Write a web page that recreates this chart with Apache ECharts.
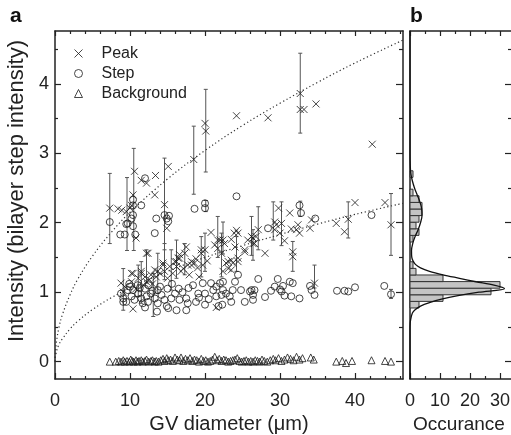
<!DOCTYPE html>
<html>
<head>
<meta charset="utf-8">
<script src="https://cdn.jsdelivr.net/npm/echarts@6/dist/echarts.min.js"></script>
<style>
  html, body { margin: 0; padding: 0; background: #fff; }
  #chart { width: 511px; height: 435px; }
</style>
</head>
<body>
<div id="chart"></div>
<script>
// ---- axis ticks / labels ----
const xMajor = [0, 10, 20, 30, 40]
const xMinor = [2, 4, 6, 8, 12, 14, 16, 18, 22, 24, 26, 28, 32, 34, 36, 38, 42, 44, 46]
const yMajor = [0, 1, 2, 3, 4]
const yMinor = [0.5, 1.5, 2.5, 3.5, 4.5]
const histMajor = [0, 10, 20, 30]
const histMinor = [5, 15, 25]

// ---- panel a: intensity vs GV diameter ----
const peakPoints = [
  [7.3, 2.21], [8.4, 2.20], [8.9, 2.18], [9.5, 2.16], [10.0, 2.21], [10.2, 2.25], [10.4, 2.40], [10.6, 2.74],
  [11.5, 2.61], [12.2, 2.57], [13.4, 2.68], [13.3, 2.40], [15.1, 2.81], [14.6, 2.26], [14.9, 1.92], [10.8, 1.78],
  [18.5, 2.91], [20.0, 3.43], [20.1, 3.32], [24.2, 3.54], [28.4, 3.51], [32.7, 3.86], [32.7, 3.63], [33.2, 3.63],
  [34.8, 3.71], [42.3, 3.13],
  [20.8, 1.86], [21.7, 1.75], [22.0, 1.75], [22.4, 1.75], [22.6, 1.70], [23.5, 1.76], [23.9, 1.85], [24.2, 1.89],
  [24.4, 1.85], [25.3, 1.61], [25.7, 1.75], [26.2, 1.80], [26.4, 1.78], [26.6, 1.70], [26.8, 1.80], [27.1, 1.90],
  [28.0, 1.56], [29.3, 2.01], [29.5, 1.97], [29.3, 1.90], [29.8, 2.21], [30.0, 1.85], [30.2, 1.99], [30.6, 1.74],
  [31.3, 2.14], [31.5, 1.91], [31.7, 1.58], [31.7, 1.51], [32.2, 1.90], [32.4, 1.97], [32.6, 1.85], [34.0, 1.92],
  [34.2, 2.04], [37.5, 1.99], [38.6, 1.87], [39.1, 2.05], [40.0, 2.29], [44.0, 2.29], [44.8, 1.97],
  [8.8, 1.13], [9.3, 1.08], [10.2, 1.15], [10.2, 1.27], [10.4, 1.27], [11.1, 1.20], [11.5, 1.30], [11.5, 1.27],
  [12.0, 1.22], [12.2, 1.15], [12.2, 1.56], [12.4, 1.56], [12.8, 1.25], [13.3, 1.32], [13.7, 1.30], [14.0, 1.27],
  [14.4, 1.39], [14.4, 1.42], [14.6, 1.30], [15.3, 1.37], [15.7, 1.27], [16.0, 1.44], [16.2, 1.44], [16.2, 1.37],
  [16.4, 1.49], [16.6, 1.54], [16.6, 1.49], [17.1, 1.34], [17.3, 1.56], [17.5, 1.65], [17.7, 1.39], [18.2, 1.44],
  [18.2, 1.39], [18.6, 1.42], [19.5, 1.56], [19.5, 1.61], [19.7, 1.39], [20.0, 1.61], [21.3, 1.68], [21.7, 1.63],
  [22.2, 1.56], [22.4, 1.30], [22.8, 1.42], [23.1, 1.34], [23.1, 1.44], [23.5, 1.46], [23.5, 1.32], [23.7, 1.42],
  [24.0, 1.65], [24.4, 1.49], [24.4, 1.44], [25.3, 1.58], [26.4, 1.70], [10.4, 0.76], [21.5, 0.78], [34.6, 1.13],
  [11.8, 1.10], [12.6, 1.18], [13.0, 1.12], [13.5, 1.22], [10.8, 1.05], [9.1, 1.00], [15.0, 1.20], [16.8, 1.30],
  [17.9, 1.25], [19.0, 1.35], [18.8, 1.48], [20.3, 1.45], [19.2, 1.22]
]
const peakErrors = [ // [x, low, high]
  [7.3, 1.70, 2.71], [9.6, 1.60, 2.65], [10.5, 1.60, 3.07], [14.6, 1.61, 2.93], [18.5, 2.41, 3.39],
  [20.1, 2.73, 3.92], [32.7, 3.29, 4.44], [44.8, 1.53, 2.42], [39.1, 1.78, 2.30], [31.7, 1.30, 1.73],
  [30.2, 1.67, 2.30], [29.1, 1.75, 2.30], [27.1, 1.61, 2.23], [26.2, 1.53, 2.09], [22.4, 1.55, 2.01],
  [21.7, 1.50, 2.09], [34.6, 1.06, 1.39], [9.1, 0.74, 1.34], [11.1, 0.94, 1.39], [11.5, 0.84, 1.44],
  [12.2, 1.13, 1.61], [13.1, 0.65, 1.27], [13.7, 0.98, 1.56], [14.6, 1.18, 1.70], [15.5, 1.03, 1.61],
  [16.2, 1.20, 1.75], [19.5, 1.22, 1.80], [22.2, 1.22, 1.85], [24.2, 1.30, 1.80], [26.4, 1.46, 1.90],
  [17.3, 1.25, 1.70], [20.0, 1.30, 1.85]
]
const stepPoints = [
  [7.3, 2.01], [8.7, 1.83], [9.3, 1.83], [9.5, 1.98], [9.7, 1.99], [10.2, 2.06], [10.4, 2.33], [10.4, 2.25],
  [10.4, 1.95], [10.4, 2.11], [10.7, 1.83], [11.5, 2.25], [12.0, 2.64], [13.3, 1.85], [13.5, 2.06], [14.6, 2.11],
  [14.9, 2.06], [15.1, 2.02], [15.2, 2.10], [18.6, 2.20], [20.0, 2.21], [20.0, 2.28], [24.2, 2.38], [28.4, 1.92],
  [32.6, 2.25], [32.8, 2.14], [34.7, 2.06], [42.2, 2.11],
  [8.8, 0.98], [9.1, 0.91], [9.1, 0.86], [9.5, 0.86], [9.7, 1.03], [10.0, 1.08], [10.2, 0.94], [10.4, 1.03],
  [10.6, 0.89], [11.1, 0.98], [11.3, 1.06], [11.5, 0.91], [11.7, 0.84], [12.2, 0.94], [12.4, 0.86], [12.8, 0.98],
  [13.3, 0.91], [13.7, 1.03], [13.7, 0.84], [14.2, 0.96], [14.6, 0.89], [15.1, 0.77], [15.5, 0.91], [16.0, 0.98],
  [16.2, 0.74], [16.6, 0.89], [17.5, 0.91], [17.5, 0.74], [17.7, 0.84], [18.8, 0.86], [19.1, 0.98], [20.0, 0.98],
  [19.7, 1.13], [20.0, 0.82], [20.8, 1.13], [21.1, 1.03], [21.5, 1.08], [22.0, 1.13], [22.4, 1.15], [22.4, 1.03],
  [21.5, 0.94], [22.2, 0.96], [22.8, 0.98], [23.3, 0.94], [23.5, 0.86], [23.7, 1.03], [24.0, 1.15], [24.4, 1.25],
  [24.8, 1.03], [25.3, 0.86], [26.0, 1.01], [26.6, 1.03], [26.4, 0.89], [27.1, 1.19], [22.3, 0.82],
  [26.2, 1.03], [26.4, 0.96], [28.0, 0.93], [28.8, 1.02], [29.3, 1.08], [29.7, 1.19], [30.0, 1.04], [30.2, 1.01],
  [30.4, 1.09], [30.6, 0.95], [31.3, 1.15], [31.7, 1.13], [31.5, 0.94], [32.6, 0.91], [34.0, 1.09], [34.2, 1.03],
  [34.6, 0.96], [37.6, 1.02], [38.6, 1.02], [39.1, 1.01], [40.0, 1.07], [43.9, 1.09], [44.8, 0.97],
  [9.9, 1.12], [11.0, 1.10], [12.0, 1.05], [12.5, 1.10], [13.0, 1.02], [14.0, 1.08], [15.0, 1.05], [15.6, 1.12],
  [16.5, 1.05], [17.0, 1.00], [17.8, 1.06], [18.4, 1.10], [19.2, 0.92], [20.5, 0.90], [21.8, 0.80], [14.9, 0.80],
  [13.6, 0.72], [12.0, 0.78]
]
const stepErrors = [
  [44.8, 0.91, 1.04], [20.1, 2.16, 2.32], [32.7, 2.09, 2.31]
]
const backgroundPoints = [
  [7.3, 0], [8.1, 0], [8.5, 0.01], [8.8, 0], [9.1, 0.02], [9.3, 0], [9.6, 0.01], [9.9, 0], [10.1, 0.03],
  [10.3, 0.01], [10.5, 0], [10.8, 0.02], [11.0, 0], [11.2, 0.01], [11.5, 0.02], [11.7, 0], [12.0, 0.01],
  [12.2, 0.03], [12.5, 0], [12.8, 0.01], [13.0, 0.02], [13.3, 0], [13.5, 0.01], [13.8, 0], [14.1, 0.02],
  [14.4, 0.04], [14.6, 0.01], [14.9, 0.05], [15.1, 0.02], [15.4, 0.03], [15.7, 0.01], [16.0, 0.06], [16.3, 0.03],
  [16.6, 0.02], [16.8, 0.06], [17.1, 0.01], [17.4, 0.04], [17.7, 0.02], [18.0, 0.05], [18.3, 0.01], [18.6, 0.03],
  [18.9, 0.02], [19.2, 0], [19.5, 0.04], [19.8, 0.01], [20.1, 0.02], [20.4, 0], [20.7, 0.01], [21.0, 0.03],
  [21.3, 0.07], [21.6, 0.02], [21.9, 0.04], [22.2, 0.01], [22.5, 0.03], [22.8, 0.02], [23.1, 0], [23.4, 0.01],
  [23.7, 0.02], [24.0, 0.03], [24.3, 0.05], [24.6, 0.01], [24.9, 0], [25.2, 0.01], [25.5, 0.02], [25.8, 0],
  [26.1, 0.01], [26.4, 0], [26.7, 0.02], [27.0, 0.01], [27.3, 0], [27.6, 0.03], [27.9, 0.01], [28.3, 0],
  [28.7, 0.02], [29.1, 0.04], [29.4, 0.02], [29.8, 0.05], [30.2, 0.01], [30.6, 0.03], [31.0, 0.06], [31.4, 0.04],
  [31.8, 0.02], [32.2, 0.07], [32.6, 0.03], [33.0, 0.05], [34.1, 0.06], [34.5, 0.03], [37.5, 0], [38.3, 0.01],
  [38.8, -0.02], [39.6, 0.01], [42.2, 0.02], [44.0, 0.01], [44.8, 0]
]
// dotted fit curves
const fitX = [0, 0.1, 0.5, 1, 2, 3, 5, 7.5, 10, 15, 20, 25, 30, 35, 40, 46.4]
const fitPeakY = [0, 0.2, 0.48, 0.68, 0.96, 1.18, 1.52, 1.86, 2.15, 2.63, 3.04, 3.4, 3.72, 4.02, 4.3, 4.63]
const fitStepY = [0, 0.1, 0.24, 0.33, 0.47, 0.58, 0.75, 0.92, 1.06, 1.3, 1.5, 1.67, 1.83, 1.98, 2.12, 2.28]

// ---- panel b: histogram of intensities ----
const binWidth = 0.095
const histCenters = [0.82, 0.915, 1.01, 1.105, 1.20, 1.295, 1.39, 1.77, 1.865, 1.96, 2.055, 2.15, 2.245, 2.34, 2.435, 2.70]
const histCounts = [3, 11, 27, 30, 11, 2, 1, 1, 3, 2, 3, 4, 4, 3, 1, 1]
const gaussY = [-0.25, 0.5, 0.6, 0.7, 0.75, 0.8, 0.85, 0.9, 0.95, 1.0, 1.05, 1.1, 1.15, 1.2, 1.25, 1.3, 1.35, 1.4,
  1.45, 1.5, 1.6, 1.7, 1.8, 1.9, 2.0, 2.1, 2.2, 2.3, 2.4, 2.5, 2.6, 2.7, 2.8, 3.0, 4.76]
const gaussCount = [0, 0, 0.2, 0.8, 1.8, 3.5, 6.5, 10.5, 16, 23, 31.5, 28, 22, 16.5, 11, 6.5, 3.5, 1.8,
  1, 0.6, 0.5, 0.9, 1.7, 2.7, 3.5, 4.0, 3.9, 3.3, 2.4, 1.5, 0.8, 0.3, 0.1, 0, 0]

const FONT = 'Liberation Sans, Arial, sans-serif'
const INK = '#222'
const Y_MIN = -0.25
const Y_MAX = 4.76
const X_MAX = 46.4
const H_MAX = 34

function axis (extra, opts) {
  return Object.assign({
    type: 'value',
    splitLine: { show: false },
    axisLine: { show: false, onZero: false, lineStyle: { color: INK, width: 1.5 } },
    axisTick: { show: false },
    axisLabel: { show: false }
  }, opts, extra)
}
function ticks (values, len) {
  return { show: true, inside: true, length: len, customValues: values, lineStyle: { color: INK, width: 1.2 } }
}
const frameLine = { show: true, onZero: false, lineStyle: { color: INK, width: 1.5 } }
const labelStyle = { show: true, fontFamily: FONT, fontSize: 18, color: INK }
const titleStyle = { fontFamily: FONT, fontSize: 20, color: INK }

const xAxes = [
  axis({ gridIndex: 0, position: 'bottom', min: 0, max: X_MAX }, {
    axisLine: frameLine,
    axisTick: ticks(xMajor, 6),
    axisLabel: Object.assign({ customValues: xMajor, margin: 13 }, labelStyle),
    name: 'GV diameter (\u03bcm)',
    nameLocation: 'middle',
    nameGap: 33,
    nameTextStyle: Object.assign({ verticalAlign: 'top' }, titleStyle)
  }),
  axis({ gridIndex: 0, position: 'bottom', min: 0, max: X_MAX }, { axisTick: ticks(xMinor, 3) }),
  axis({ gridIndex: 0, position: 'top', min: 0, max: X_MAX }, { axisLine: frameLine, axisTick: ticks(xMajor, 5) }),
  axis({ gridIndex: 0, position: 'top', min: 0, max: X_MAX }, { axisTick: ticks(xMinor, 3) }),
  axis({ gridIndex: 1, position: 'bottom', min: 0, max: H_MAX }, {
    axisLine: frameLine,
    axisTick: ticks(histMajor, 6),
    axisLabel: Object.assign({ customValues: histMajor, margin: 13 }, labelStyle),
    name: 'Occurance',
    nameLocation: 'middle',
    nameGap: 33,
    nameTextStyle: Object.assign({ verticalAlign: 'top' }, titleStyle, { fontSize: 19, padding: [0, 4, 0, 0] })
  }),
  axis({ gridIndex: 1, position: 'bottom', min: 0, max: H_MAX }, { axisTick: ticks(histMinor, 3) }),
  axis({ gridIndex: 1, position: 'top', min: 0, max: H_MAX }, { axisLine: frameLine, axisTick: ticks(histMajor, 5) }),
  axis({ gridIndex: 1, position: 'top', min: 0, max: H_MAX }, { axisTick: ticks(histMinor, 3) })
]

const yAxes = [
  axis({ gridIndex: 0, position: 'left', min: Y_MIN, max: Y_MAX }, {
    axisLine: frameLine,
    axisTick: ticks(yMajor, 6),
    axisLabel: Object.assign({ customValues: yMajor, margin: 6 }, labelStyle),
    name: 'Intensity (bilayer step intensity)',
    nameLocation: 'middle',
    nameGap: 27,
    nameTextStyle: Object.assign({}, titleStyle, { fontSize: 22, padding: [0, 0, 0, 28] })
  }),
  axis({ gridIndex: 0, position: 'left', min: Y_MIN, max: Y_MAX }, { axisTick: ticks(yMinor, 3) }),
  axis({ gridIndex: 0, position: 'right', min: Y_MIN, max: Y_MAX }, { axisLine: frameLine, axisTick: ticks(yMajor, 7) }),
  axis({ gridIndex: 0, position: 'right', min: Y_MIN, max: Y_MAX }, { axisTick: ticks(yMinor, 4) }),
  axis({ gridIndex: 1, position: 'left', min: Y_MIN, max: Y_MAX }, { axisLine: frameLine }),
  axis({ gridIndex: 1, position: 'right', min: Y_MIN, max: Y_MAX }, { axisLine: frameLine, axisTick: ticks(yMajor, 7) }),
  axis({ gridIndex: 1, position: 'right', min: Y_MIN, max: Y_MAX }, { axisTick: ticks(yMinor, 4) })
]

function errorBars (params, api) {
  const x = api.value(0)
  const lo = api.coord([x, api.value(1)])
  const hi = api.coord([x, api.value(2)])
  const cap = 2
  const style = { stroke: '#555', lineWidth: 1 }
  return {
    type: 'group',
    children: [
      { type: 'line', shape: { x1: lo[0], y1: lo[1], x2: hi[0], y2: hi[1] }, style },
      { type: 'line', shape: { x1: lo[0] - cap, y1: lo[1], x2: lo[0] + cap, y2: lo[1] }, style },
      { type: 'line', shape: { x1: hi[0] - cap, y1: hi[1], x2: hi[0] + cap, y2: hi[1] }, style }
    ]
  }
}

function histBar (params, api) {
  const c = api.value(0)
  const n = api.value(1)
  const a = api.coord([0, c - binWidth / 2])
  const b = api.coord([n, c + binWidth / 2])
  return {
    type: 'rect',
    shape: { x: a[0], y: b[1], width: b[0] - a[0], height: a[1] - b[1] },
    style: { fill: '#c4c4c4', stroke: '#333', lineWidth: 1 }
  }
}

const hollow = { color: 'rgba(0,0,0,0)', borderColor: '#1a1a1a', borderWidth: 1 }

const chart = echarts.init(document.getElementById('chart'), null, { renderer: 'canvas' })
chart.setOption({
  animation: false,
  backgroundColor: '#fff',
  grid: [
    { left: 55, top: 31, width: 348, height: 348, outerBoundsMode: 'none', containLabel: false },
    { left: 410, top: 31, width: 102, height: 348, outerBoundsMode: 'none', containLabel: false }
  ],
  xAxis: xAxes,
  yAxis: yAxes,
  legend: {
    data: ['Peak', 'Step', 'Background'],
    orient: 'vertical',
    left: 74,
    top: 45.5,
    padding: 0,
    itemWidth: 8,
    itemHeight: 8,
    itemGap: 4,
    itemStyle: { borderWidth: 1 },
    textStyle: { fontFamily: FONT, fontSize: 16, color: INK, lineHeight: 15.5, padding: [0, 0, 0, 14] }
  },
  graphic: [
    { type: 'text', left: 10, top: 6, style: { text: 'a', font: 'bold 21px ' + FONT, fill: '#111' } },
    { type: 'text', left: 410, top: 6, style: { text: 'b', font: 'bold 21px ' + FONT, fill: '#111' } }
  ],
  series: [
    {
      type: 'line', xAxisIndex: 0, yAxisIndex: 0, showSymbol: false, smooth: 0.4, silent: true,
      data: fitX.map((x, i) => [x, fitPeakY[i]]),
      lineStyle: { color: '#333', width: 1.2, type: [1.2, 2.6] }
    },
    {
      type: 'line', xAxisIndex: 0, yAxisIndex: 0, showSymbol: false, smooth: 0.4, silent: true,
      data: fitX.map((x, i) => [x, fitStepY[i]]),
      lineStyle: { color: '#333', width: 1.2, type: [1.2, 2.6] }
    },
    {
      type: 'custom', xAxisIndex: 0, yAxisIndex: 0, renderItem: errorBars,
      encode: { x: 0, y: [1, 2] }, data: peakErrors
    },
    {
      type: 'custom', xAxisIndex: 0, yAxisIndex: 0, renderItem: errorBars,
      encode: { x: 0, y: [1, 2] }, data: stepErrors
    },
    {
      name: 'Background', type: 'scatter', xAxisIndex: 0, yAxisIndex: 0,
      symbol: 'triangle', symbolSize: 7, itemStyle: hollow, data: backgroundPoints
    },
    {
      name: 'Step', type: 'scatter', xAxisIndex: 0, yAxisIndex: 0,
      symbol: 'circle', symbolSize: 7, itemStyle: hollow, data: stepPoints
    },
    {
      name: 'Peak', type: 'scatter', xAxisIndex: 0, yAxisIndex: 0,
      symbol: 'path://M0,0L10,10M10,0L0,10', symbolSize: 7, itemStyle: hollow, data: peakPoints
    },
    {
      type: 'custom', xAxisIndex: 4, yAxisIndex: 4, renderItem: histBar,
      encode: { x: 1, y: 0 }, data: histCenters.map((c, i) => [c, histCounts[i]])
    },
    {
      type: 'line', xAxisIndex: 4, yAxisIndex: 4, showSymbol: false, smooth: 0.3, silent: true,
      data: gaussY.map((y, i) => [gaussCount[i], y]),
      lineStyle: { color: '#111', width: 1.3 }
    }
  ]
})
</script>
</body>
</html>
